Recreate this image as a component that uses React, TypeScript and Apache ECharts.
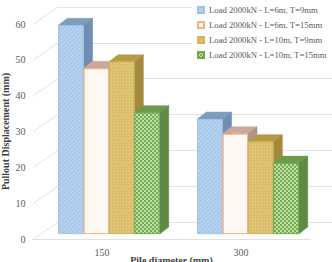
import React, { useEffect, useRef } from "react";
import * as echarts from "echarts";

const categories = ["150", "300"];
const seriesNames = [
  "Load 2000kN - L=6m, T=9mm",
  "Load 2000kN - L=6m, T=15mm",
  "Load 2000kN - L=10m, T=9mm",
  "Load 2000kN - L=10m, T=15mm",
];
const s1 = [58.3, 32.1];
const s2 = [46.3, 28.0];
const s3 = [48.1, 25.8];
const s4 = [33.9, 19.8];
const yTicks = [0, 10, 20, 30, 40, 50, 60];

const FONT = "'Liberation Serif', 'Times New Roman', serif";
const DX = 9;
const DY = -7;
const CAT_GAP = 0.27;

const styles = [
  {
    color: "#a6c8ea",
    border: "#9dc3e6",
    top: "#7f9cbd",
    side: "#6f8eb3",
    decal: { color: "rgba(255,255,255,0.3)", dashArrayX: [1, 0], dashArrayY: [1, 2], rotation: -Math.PI / 4 },
  },
  {
    color: "#fff8f3",
    border: "#f4b183",
    top: "#c9a99c",
    side: "#b39386",
    decal: { symbol: "circle", symbolSize: 1, color: "#f2a977", dashArrayX: [1, 2], dashArrayY: [1, 2] },
  },
  {
    color: "#dcbf6c",
    border: "#d4b55e",
    top: "#b79a45",
    side: "#a5893b",
    decal: { symbol: "rect", symbolSize: 1, color: "rgba(255,255,255,0.3)", dashArrayX: [1, 2], dashArrayY: [1, 2] },
  },
  {
    color: "#74b04c",
    border: "#70ad47",
    top: "#6c9b4c",
    side: "#5f8a43",
    decal: { symbol: "rect", symbolSize: 0.8, color: "#f4faef", dashArrayX: [[2, 2], [0, 2, 2, 0]], dashArrayY: [2, 0] },
  },
];

const values = [s1, s2, s3, s4];

export default function App() {
  const ref = useRef<HTMLDivElement>(null);
  useEffect(() => {
    if (!ref.current) return;
    const chart = echarts.init(ref.current, undefined, { renderer: "svg" });

    const barSeries = values.map((vals, i) => ({
      name: seriesNames[i],
      type: "bar",
      xAxisIndex: 0,
      yAxisIndex: 0,
      data: vals,
      barGap: "0%",
      barCategoryGap: CAT_GAP * 100 + "%",
      z: 3,
      itemStyle: {
        color: styles[i].color,
        borderColor: styles[i].border,
        borderWidth: 0.8,
        decal: styles[i].decal,
      },
    }));

    const faceSeries = values.map((vals, si) => ({
      type: "custom",
      xAxisIndex: 0,
      yAxisIndex: 0,
      z: 1,
      silent: true,
      data: vals.map((v, ci) => [ci, v]),
      renderItem: (params: any, api: any) => {
        const cat = api.value(0);
        const val = api.value(1);
        const base = api.coord([cat, 0]);
        const top = api.coord([cat, val]);
        const band = api.size([1, 0])[0];
        const w = (band * (1 - CAT_GAP)) / 4;
        const x0 = top[0] - 2 * w + si * w;
        const x1 = x0 + w;
        const st = styles[si];
        return {
          type: "group",
          children: [
            {
              type: "polygon",
              shape: { points: [[x0, top[1]], [x1, top[1]], [x1 + DX, top[1] + DY], [x0 + DX, top[1] + DY]] },
              style: { fill: st.top, stroke: st.top, lineWidth: 0.5 },
            },
            {
              type: "polygon",
              shape: { points: [[x1, top[1]], [x1 + DX, top[1] + DY], [x1 + DX, base[1] + DY], [x1, base[1]]] },
              style: { fill: st.side, stroke: st.side, lineWidth: 0.5 },
            },
          ],
        };
      },
    }));

    const diagSeries = {
      type: "custom",
      xAxisIndex: 1,
      yAxisIndex: 1,
      z: 0,
      silent: true,
      data: yTicks.map((t) => [0, t]),
      renderItem: (params: any, api: any) => {
        const p = api.coord([0, api.value(1)]);
        const x = params.coordSys.x;
        return {
          type: "line",
          shape: { x1: x + 1, y1: p[1], x2: x + 25.5, y2: p[1] - 17 },
          style: { stroke: "#e3e3e3", lineWidth: 1 },
        };
      },
    };

    chart.setOption({
      animation: false,
      backgroundColor: "#ffffff",
      grid: [
        { left: 39.5, right: 14.5, top: 19.2, bottom: 28, outerBoundsMode: "none", containLabel: false },
        { left: 32.5, right: 21.5, top: 24, bottom: 23, outerBoundsMode: "none", containLabel: false },
        { left: 58, right: 0, top: 7, bottom: 40, outerBoundsMode: "none", containLabel: false },
      ],
      legend: {
        data: seriesNames,
        orient: "vertical",
        left: 192,
        top: 0,
        padding: [4, 6, 4, 5],
        backgroundColor: "#ffffff",
        itemWidth: 6,
        itemHeight: 6,
        itemGap: 3,
        icon: "rect",
        textStyle: { fontFamily: FONT, fontSize: 8.7, color: "#595959", lineHeight: 12 },
        z: 10,
      },
      xAxis: [
        { type: "category", gridIndex: 0, data: categories, show: false },
        {
          type: "category",
          gridIndex: 1,
          data: categories,
          axisLine: { show: true, lineStyle: { color: "#e0e0e0" } },
          axisTick: { show: false },
          axisLabel: { fontFamily: FONT, fontSize: 10, color: "#595959", margin: 8 },
          name: "Pile diameter (mm)",
          nameLocation: "middle",
          nameGap: 16,
          nameMoveOverlap: false,
          nameTextStyle: { fontFamily: FONT, fontSize: 10, fontWeight: "bold", color: "#404040" },
        },
        { type: "category", gridIndex: 2, data: categories, show: false },
      ],
      yAxis: [
        { type: "value", gridIndex: 0, min: 0, max: 60, interval: 10, show: false, splitLine: { show: false } },
        {
          type: "value",
          gridIndex: 1,
          min: 0,
          max: 60,
          interval: 10,
          axisLine: { show: false },
          axisTick: { show: false },
          splitLine: { show: false },
          axisLabel: { fontFamily: FONT, fontSize: 10, color: "#595959", margin: 7 },
          name: "Pullout Displacement (mm)",
          nameLocation: "middle",
          nameGap: 22,
          nameMoveOverlap: false,
          nameTextStyle: { fontFamily: FONT, fontSize: 10, fontWeight: "bold", color: "#404040" },
        },
        {
          type: "value",
          gridIndex: 2,
          min: 0,
          max: 60,
          interval: 10,
          axisLine: { show: false },
          axisTick: { show: false },
          axisLabel: { show: false },
          splitLine: { show: true, lineStyle: { color: "#e3e3e3", width: 1 } },
        },
      ],
      series: [...faceSeries, ...barSeries, diagSeries],
    });
    return () => chart.dispose();
  }, []);
  return <div ref={ref} style={{ width: 332, height: 262, position: "absolute", left: 0, top: 0 }} />;
}
